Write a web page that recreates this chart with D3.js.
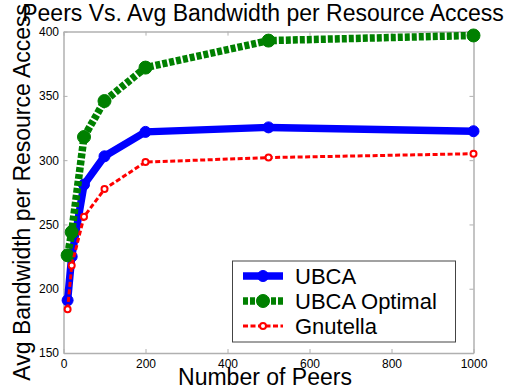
<!DOCTYPE html>
<html>
<head>
<meta charset="utf-8">
<script src="https://cdn.jsdelivr.net/npm/d3@7"></script>
<style>
  body { margin: 0; background: #fff; }
  svg { font-family: "Liberation Sans", Arial, sans-serif; }
</style>
</head>
<body>
<div id="chart-area"></div>
<script>
// data
var peers = [10, 20, 50, 100, 200, 500, 1000];
var ubca = [191, 225, 281, 303, 322, 325.5, 322.5];
var ubcaOptimal = [226, 244, 318, 346, 372, 393, 397];
var gnutella = [184, 218, 256, 277.5, 298.5, 302, 305];
var xTicks = [0, 200, 400, 600, 800, 1000];
var yTicks = [150, 200, 250, 300, 350, 400];

var series = [
  {name: "UBCA", values: ubca, color: "#0000ff", width: 7.5, dash: null, r: 5.5, fill: "#0000ff"},
  {name: "UBCA Optimal", values: ubcaOptimal, color: "#008000", width: 7.5, dash: "5,2", r: 6.5, fill: "#008000"},
  {name: "Gnutella", values: gnutella, color: "#ff0000", width: 3, dash: "5,2.5", r: 3, fill: "#ffffff"}
];

var W = 511, H = 391;
var plotLeft = 63.5, plotRight = 473.5, plotTop = 31.6, plotBottom = 353;

var svg = d3.select("#chart-area").append("svg")
    .attr("width", W)
    .attr("height", H);

// Scales
var x = d3.scaleLinear().domain([0, 1000]).range([plotLeft, plotRight]);
var y = d3.scaleLinear().domain([150, 400]).range([plotBottom, plotTop]);

var frame = "#b0b0b0";

// axes, ticks pointing inwards
var xAxis = svg.append("g")
    .attr("transform", "translate(0," + plotBottom + ")")
    .call(d3.axisBottom(x).tickValues(xTicks).tickFormat(d3.format("d"))
      .tickSize(-4).tickSizeOuter(0).tickPadding(6));
var yAxis = svg.append("g")
    .attr("transform", "translate(" + plotLeft + ",0)")
    .call(d3.axisLeft(y).tickValues(yTicks).tickSize(-4).tickSizeOuter(0).tickPadding(4.5));
var topAxis = svg.append("g")
    .attr("transform", "translate(0," + plotTop + ")")
    .call(d3.axisTop(x).tickValues(xTicks).tickSize(-4).tickSizeOuter(0).tickFormat(""));
var rightAxis = svg.append("g")
    .attr("transform", "translate(" + plotRight + ",0)")
    .call(d3.axisRight(y).tickValues(yTicks).tickSize(-4).tickSizeOuter(0).tickFormat(""));

svg.selectAll(".domain").attr("stroke", frame).attr("stroke-width", 1.5);
svg.selectAll(".tick line").attr("stroke", frame).attr("stroke-width", 1);
svg.selectAll(".tick text").attr("fill", "#000").style("font-size", "12px")
    .style("font-family", "'Liberation Sans', Arial, sans-serif");

// lines and markers
var line = d3.line()
    .x(function(d, i) { return x(peers[i]); })
    .y(function(d) { return y(d); });

series.forEach(function(s) {
  svg.append("path")
      .attr("d", line(s.values))
      .attr("fill", "none")
      .attr("stroke", s.color)
      .attr("stroke-width", s.width)
      .attr("stroke-dasharray", s.dash)
      .attr("stroke-linejoin", "round");
  svg.append("g").selectAll("circle")
      .data(s.values)
      .enter().append("circle")
      .attr("cx", function(d, i) { return x(peers[i]); })
      .attr("cy", function(d) { return y(d); })
      .attr("r", s.r)
      .attr("fill", s.fill)
      .attr("stroke", s.color)
      .attr("stroke-width", s.name == "Gnutella" ? 2 : 1);
});

// titles
svg.append("text")
    .attr("x", 263)
    .attr("y", 21)
    .attr("text-anchor", "middle")
    .style("font-size", "23px")
    .text("Peers Vs. Avg Bandwidth per Resource Access");

svg.append("text")
    .attr("x", 265)
    .attr("y", 385)
    .attr("text-anchor", "middle")
    .style("font-size", "23px")
    .text("Number of Peers");

svg.append("text")
    .attr("transform", "translate(29.5," + ((plotTop + plotBottom) / 2) + ") rotate(-90)")
    .attr("text-anchor", "middle")
    .style("font-size", "23px")
    .text("Avg Bandwidth per Resource Access");

// legend
var legend = svg.append("g");
legend.append("rect")
    .attr("x", 232.5)
    .attr("y", 261)
    .attr("width", 223)
    .attr("height", 81)
    .attr("fill", "#fff")
    .attr("stroke", "#444")
    .attr("stroke-width", 1);

series.forEach(function(s, i) {
  var ly = 276 + i * 25;
  legend.append("line")
      .attr("x1", 243).attr("x2", 283)
      .attr("y1", ly).attr("y2", ly)
      .attr("stroke", s.color)
      .attr("stroke-width", s.width)
      .attr("stroke-dasharray", s.dash);
  legend.append("circle")
      .attr("cx", 263).attr("cy", ly)
      .attr("r", s.r)
      .attr("fill", s.fill)
      .attr("stroke", s.color)
      .attr("stroke-width", s.name == "Gnutella" ? 2 : 1);
  legend.append("text")
      .attr("x", 295)
      .attr("y", ly + 8)
      .style("font-size", "22px")
      .text(s.name);
});
</script>
</body>
</html>
